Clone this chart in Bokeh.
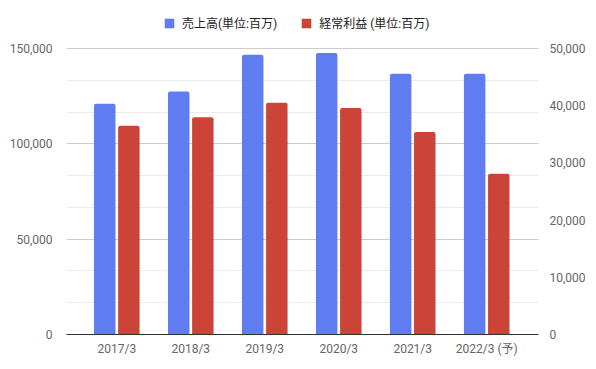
from bokeh.plotting import figure
from bokeh.models import (Range1d, LinearAxis, FixedTicker, NumeralTickFormatter,
                          ColumnDataSource, Legend, LegendItem)
from bokeh.transform import dodge
from bokeh.embed import file_html
from bokeh.resources import INLINE

categories = ["2017/3", "2018/3", "2019/3", "2020/3", "2021/3", "2022/3 (予)"]
sales = [121000, 127500, 146700, 147700, 136700, 136700]          # 売上高 (left axis)
ordinary_profit = [36500, 38000, 40500, 39600, 35400, 28100]      # 経常利益 (right axis)
left_ticks = [0, 50000, 100000, 150000]
right_ticks = [0, 10000, 20000, 30000, 40000, 50000]
label_sales = "売上高(単位:百万)"
label_profit = "経常利益 (単位:百万)"

FONT = "Roboto, Noto Sans CJK JP"
BLUE = "#5f7cf0"
RED = "#cc4337"
LABEL = "#666666"

# layout: frame spans 8..334 px vertically; the axis maximum sits 286 px above the baseline,
# the extra headroom holds the legend
FRAME_TOP, BASELINE, AXIS_TOP = 8, 334, 48
stretch = (BASELINE - FRAME_TOP) / (BASELINE - AXIS_TOP)

src = ColumnDataSource(dict(x=list(range(len(categories))), sales=sales, profit=ordinary_profit))

p = figure(width=596, height=369, output_backend="svg", toolbar_location=None,
           x_range=Range1d(-0.68, len(categories) - 1 + 0.70),
           y_range=Range1d(0, left_ticks[-1] * stretch),
           min_border_left=66, min_border_right=58, min_border_top=FRAME_TOP,
           min_border_bottom=369 - BASELINE)
p.outline_line_color = None
p.background_fill_color = "white"
p.border_fill_color = "white"
p.extra_y_ranges = {"right": Range1d(0, right_ticks[-1] * stretch)}

r1 = p.vbar(x=dodge("x", -0.163, range=p.x_range), top="sales", width=0.29, source=src,
            fill_color=BLUE, line_color=None, border_radius=(2, 2, 0, 0))
r2 = p.vbar(x=dodge("x", 0.163, range=p.x_range), top="profit", width=0.29, source=src,
            fill_color=RED, line_color=None, y_range_name="right", border_radius=(2, 2, 0, 0))

# x axis
xa = p.xaxis[0]
xa.ticker = FixedTicker(ticks=list(range(len(categories))))
xa.major_label_overrides = {i: c for i, c in enumerate(categories)}
xa.axis_line_color = "#333333"
xa.axis_line_width = 1
xa.major_tick_line_color = None
xa.minor_tick_line_color = None
xa.major_label_text_font = FONT
xa.major_label_text_font_size = "12px"
xa.major_label_text_color = LABEL
xa.major_label_standoff = 1
p.xgrid.grid_line_color = None

# left axis
ya = p.yaxis[0]
minor = [v * 50000 / 3 for v in range(10)]
ya.ticker = FixedTicker(ticks=left_ticks, minor_ticks=minor)
ya.formatter = NumeralTickFormatter(format="0,0")
ya.axis_line_color = None
ya.major_tick_line_color = None
ya.minor_tick_line_color = None
ya.major_label_text_font = FONT
ya.major_label_text_font_size = "12px"
ya.major_label_text_color = LABEL
ya.major_label_standoff = 8
p.ygrid.ticker = FixedTicker(ticks=left_ticks, minor_ticks=minor)
p.ygrid.grid_line_color = "#cccccc"
p.ygrid.minor_grid_line_color = "#ebebeb"

# right axis
ra = LinearAxis(y_range_name="right", ticker=FixedTicker(ticks=right_ticks),
                formatter=NumeralTickFormatter(format="0,0"))
ra.axis_line_color = None
ra.major_tick_line_color = None
ra.minor_tick_line_color = None
ra.major_label_text_font = FONT
ra.major_label_text_font_size = "12px"
ra.major_label_text_color = LABEL
ra.major_label_standoff = 5
p.add_layout(ra, "right")

legend = Legend(items=[LegendItem(label=label_sales, renderers=[r1]),
                       LegendItem(label=label_profit, renderers=[r2])],
                orientation="horizontal", location=(97, 303),
                label_text_font=FONT, label_text_font_size="12px", label_text_color="#222222",
                glyph_width=12, glyph_height=12, spacing=23, padding=4, margin=0,
                label_standoff=7, border_line_color=None, background_fill_alpha=0)
p.add_layout(legend)

open("out.html", "w").write(file_html(p, INLINE))
